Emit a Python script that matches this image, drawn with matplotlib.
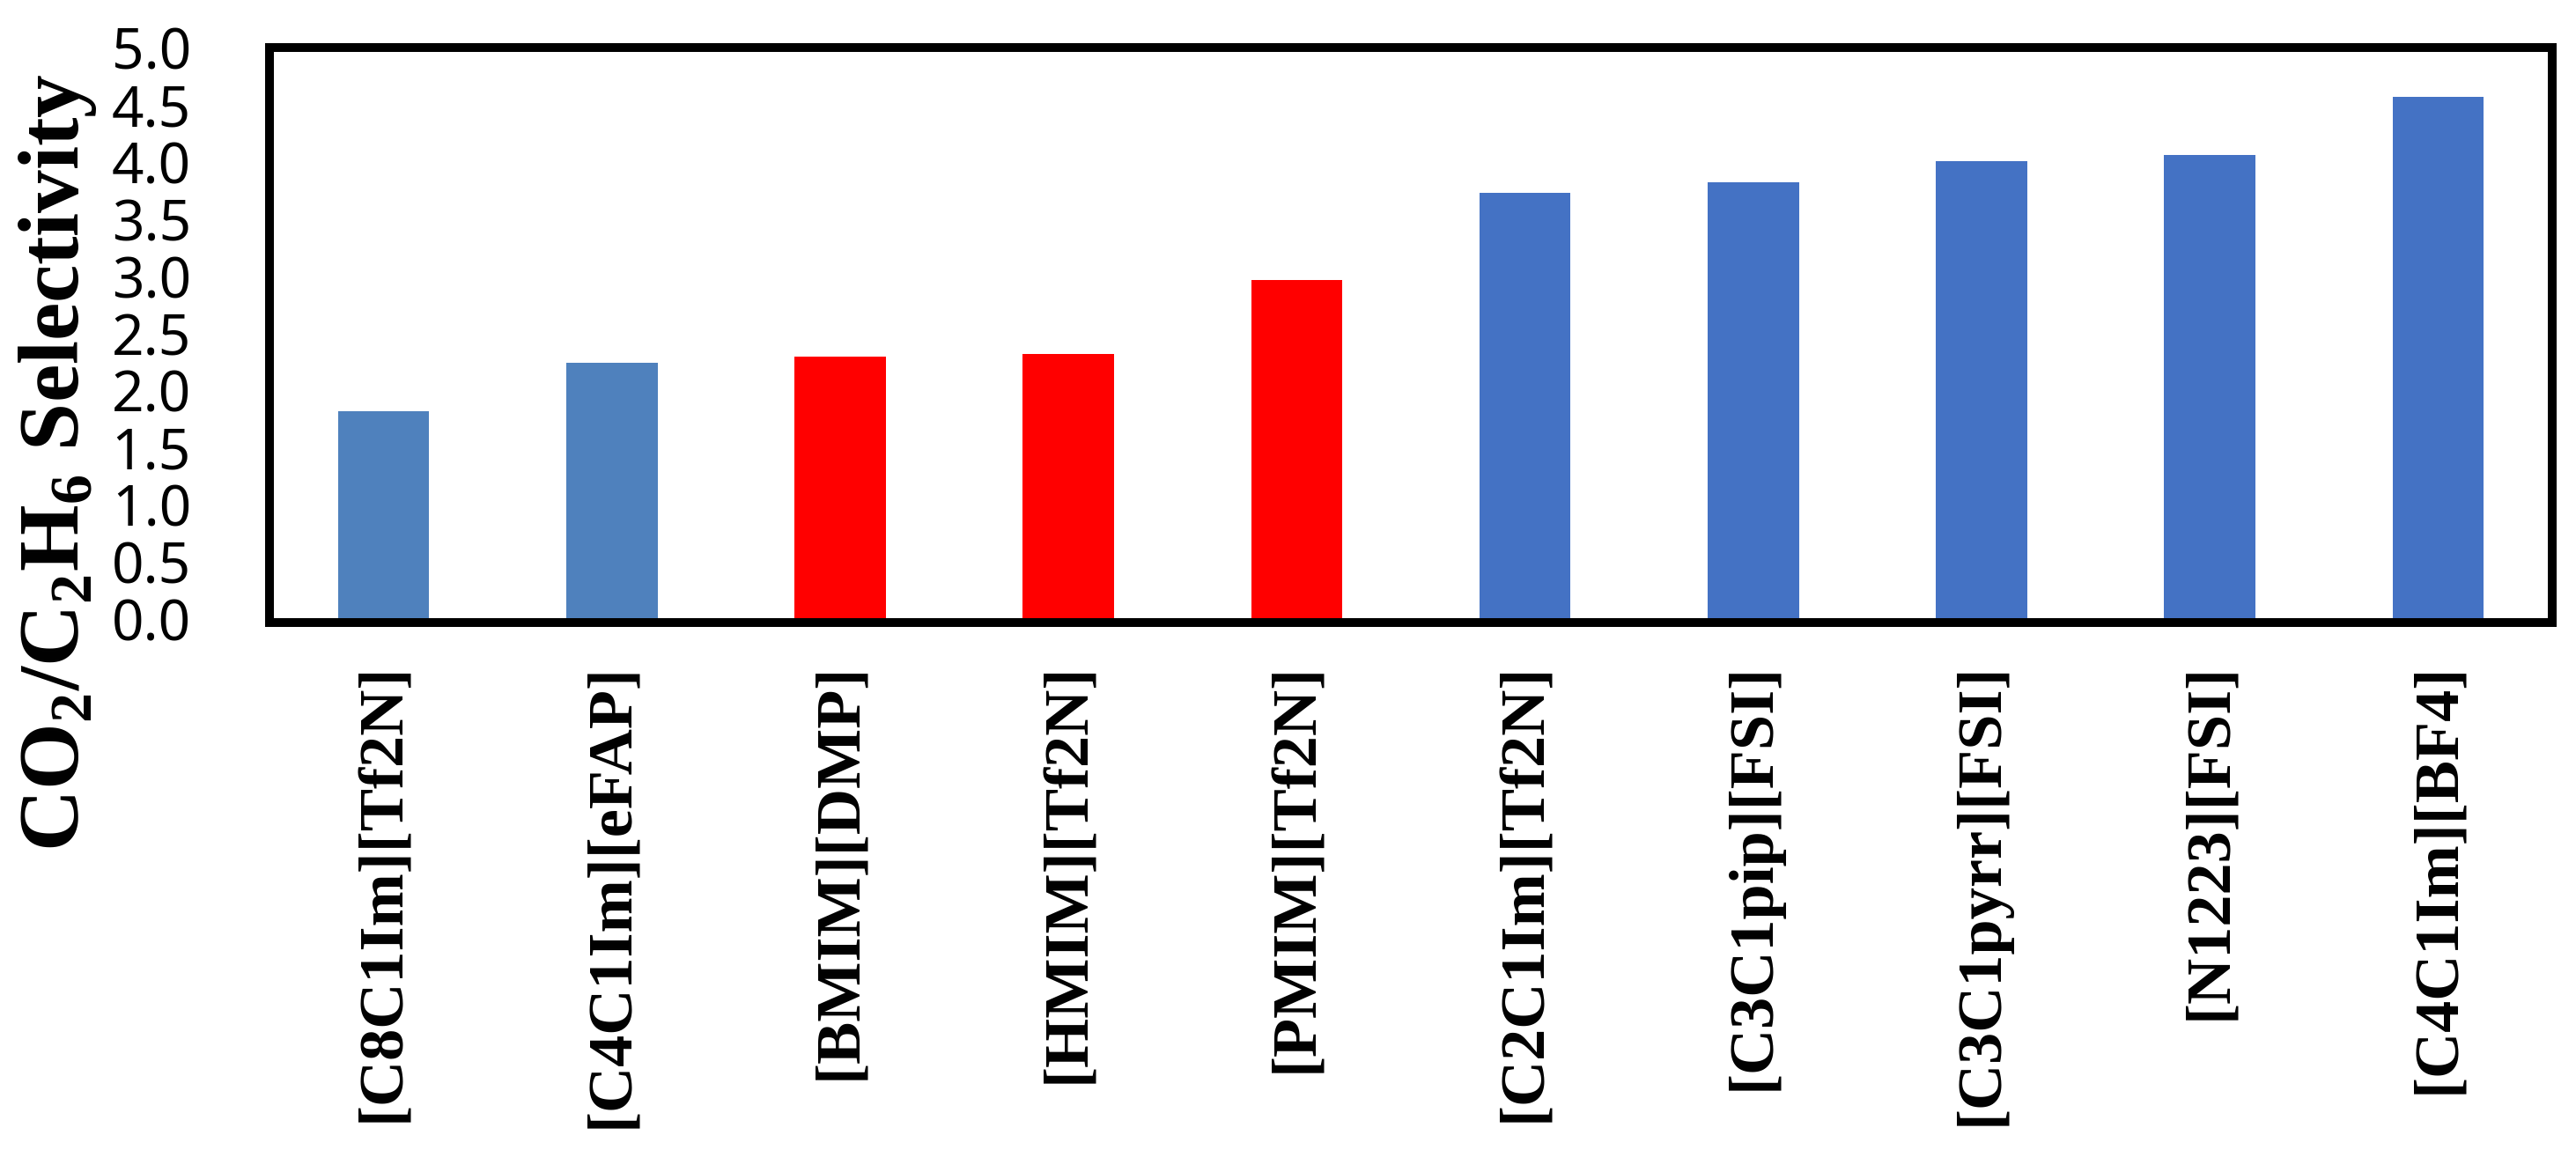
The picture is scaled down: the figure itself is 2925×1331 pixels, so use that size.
import matplotlib
matplotlib.use("Agg")
import matplotlib.pyplot as plt

# ionic liquids, CO2/C2H6 selectivity
liquids = ["[C8C1Im][Tf2N]", "[C4C1Im][eFAP]", "[BMIM][DMP]", "[HMIM][Tf2N]",
           "[PMIM][Tf2N]", "[C2C1Im][Tf2N]", "[C3C1pip][FSI]", "[C3C1pyrr][FSI]",
           "[N1223][FSI]", "[C4C1Im][BF4]"]
selectivity = [1.82, 2.24, 2.30, 2.32, 2.97, 3.73, 3.82, 4.01, 4.06, 4.57]
bar_colors = ["#4F81BD", "#4F81BD", "#FF0000", "#FF0000", "#FF0000",
              "#4472C4", "#4472C4", "#4472C4", "#4472C4", "#4472C4"]
yticks = [0.0, 0.5, 1.0, 1.5, 2.0, 2.5, 3.0, 3.5, 4.0, 4.5, 5.0]

plt.rcParams["mathtext.fontset"] = "custom"
plt.rcParams["mathtext.rm"] = "Liberation Serif:bold"
plt.rcParams["mathtext.bf"] = "Liberation Serif:bold"

W, H = 2925, 1331
fig = plt.figure(figsize=(W / 100, H / 100), dpi=100)
# axes edges placed at the centre of the thick frame lines
left, right, top, bottom = 306, 2898, 54, 707
ax = fig.add_axes([left / W, 1 - bottom / H, (right - left) / W, (bottom - top) / H])

xs = range(len(liquids))
ax.bar(xs, selectivity, width=0.4, color=bar_colors, zorder=1)

ax.set_xlim(-0.5, len(liquids) - 0.5)
ax.set_ylim(-0.03, 5.0)
ax.set_yticks(yticks)
ax.set_yticklabels(["%.1f" % t for t in yticks], fontfamily="Noto Sans", fontsize=46)
ax.set_xticks(list(xs))
ax.set_xticklabels(liquids, rotation=90, fontfamily="Liberation Serif",
                   fontweight="bold", fontsize=52)
ax.tick_params(axis="y", length=0, pad=64)
ax.tick_params(axis="x", length=0, pad=33)

for s in ax.spines.values():
    s.set_linewidth(7.2)
    s.set_color("black")

fig.text(66 / W, 1 - 525 / H, r"CO$_2$/C$_2$H$_6$ Selectivity", rotation=90,
         ha="center", va="center", fontfamily="Liberation Serif",
         fontweight="bold", fontsize=70)

fig.savefig("out.png", dpi=100, facecolor="white")
